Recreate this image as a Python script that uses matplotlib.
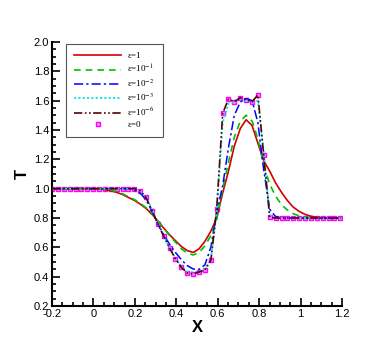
import matplotlib
matplotlib.use('Agg')
import matplotlib.pyplot as plt
from matplotlib.ticker import MultipleLocator

plt.rcParams['font.family'] = ['Liberation Sans', 'DejaVu Sans']
plt.rcParams['mathtext.fontset'] = 'stix'

# grid points
x = [-0.200, -0.172, -0.143, -0.115, -0.086, -0.058, -0.030, -0.001, 0.027, 0.056,
     0.084, 0.112, 0.141, 0.169, 0.198, 0.226, 0.254, 0.283, 0.311, 0.340,
     0.368, 0.396, 0.425, 0.453, 0.482, 0.510, 0.538, 0.567, 0.595, 0.624,
     0.652, 0.680, 0.709, 0.737, 0.766, 0.794, 0.822, 0.851, 0.879, 0.908,
     0.936, 0.964, 0.993, 1.021, 1.050, 1.078, 1.106, 1.135, 1.163, 1.192]

# eps = 1
T_e1 = [1.0, 1.0, 1.0, 1.0, 1.0, 1.0, 1.0, 1.0, 0.998, 0.993,
        0.985, 0.975, 0.96, 0.94, 0.92, 0.895, 0.865, 0.825, 0.78, 0.73,
        0.685, 0.645, 0.605, 0.578, 0.565, 0.59, 0.64, 0.71, 0.80, 0.97,
        1.12, 1.29, 1.41, 1.47, 1.43, 1.31, 1.19, 1.12, 1.04, 0.975,
        0.92, 0.875, 0.845, 0.825, 0.812, 0.805, 0.802, 0.8, 0.8, 0.8]
# eps = 1e-1
T_e2 = [1.0, 1.0, 1.0, 1.0, 1.0, 1.0, 1.0, 1.0, 1.0, 0.997,
        0.99, 0.98, 0.965, 0.945, 0.925, 0.90, 0.87, 0.83, 0.78, 0.73,
        0.68, 0.635, 0.59, 0.56, 0.548, 0.565, 0.61, 0.68, 0.79, 1.0,
        1.18, 1.35, 1.46, 1.50, 1.46, 1.34, 1.16, 1.03, 0.95, 0.89,
        0.855, 0.83, 0.815, 0.806, 0.802, 0.8, 0.8, 0.8, 0.8, 0.8]
# eps = 1e-2
T_e3 = [1.0, 1.0, 1.0, 1.0, 1.0, 1.0, 1.0, 1.0, 1.0, 1.0,
        1.0, 1.0, 1.0, 1.0, 0.99, 0.97, 0.925, 0.845, 0.76, 0.685,
        0.62, 0.565, 0.515, 0.475, 0.452, 0.45, 0.48, 0.60, 0.84, 1.02,
        1.28, 1.50, 1.59, 1.615, 1.60, 1.45, 1.13, 0.86, 0.81, 0.80,
        0.8, 0.8, 0.8, 0.8, 0.8, 0.8, 0.8, 0.8, 0.8, 0.8]
# eps = 1e-3
T_e4 = [1.0, 1.0, 1.0, 1.0, 1.0, 1.0, 1.0, 1.0, 1.0, 1.0,
        1.0, 1.0, 1.0, 1.0, 1.0, 0.985, 0.94, 0.86, 0.765, 0.675,
        0.595, 0.525, 0.47, 0.435, 0.428, 0.435, 0.455, 0.52, 0.84, 1.45,
        1.58, 1.59, 1.61, 1.60, 1.59, 1.60, 1.25, 0.82, 0.8, 0.8,
        0.8, 0.8, 0.8, 0.8, 0.8, 0.8, 0.8, 0.8, 0.8, 0.8]
# eps = 1e-6
T_e5 = [1.0, 1.0, 1.0, 1.0, 1.0, 1.0, 1.0, 1.0, 1.0, 1.0,
        1.0, 1.0, 1.0, 1.0, 1.0, 0.985, 0.94, 0.851, 0.759, 0.674,
        0.594, 0.521, 0.463, 0.425, 0.42, 0.432, 0.446, 0.511, 0.86, 1.514,
        1.611, 1.593, 1.62, 1.605, 1.593, 1.639, 1.23, 0.805, 0.8, 0.8,
        0.8, 0.8, 0.8, 0.8, 0.8, 0.8, 0.8, 0.8, 0.8, 0.8]
# eps = 0
T_e0 = list(T_e5)

labels = ['ε=1', 'ε=10$^{-1}$', 'ε=10$^{-2}$', 'ε=10$^{-3}$', 'ε=10$^{-6}$', 'ε=0']

fig = plt.figure(figsize=(3.89, 3.46), dpi=100)
ax = fig.add_axes([52/389, 1-306/346, 290/389, 264/346])

l1, = ax.plot(x, T_e1, color='#d00000', lw=1.2, zorder=3)
l2, = ax.plot(x, T_e2, color='#00c000', lw=1.2, ls=(0, (4, 3)), zorder=3)
l3, = ax.plot(x, T_e3, color='#0000ff', lw=1.1, ls=(0, (6, 2, 1.5, 2)), zorder=3)
l4, = ax.plot(x, T_e4, color='#00e8e8', lw=1.3, ls=(0, (1.2, 1.2)), zorder=3)
l5, = ax.plot(x, T_e5, color='#5a0000', lw=1.2, ls=(0, (5, 1.5, 1, 1.5, 1, 1.5)), zorder=4)
l6, = ax.plot(x, T_e0, ls='none', marker='s', ms=3.4, mec='#ff00ff', mfc='#ff90ff',
              mew=1.0, zorder=2)

ax.set_xlim(-0.2, 1.2)
ax.set_ylim(0.2, 2.0)
ax.xaxis.set_major_locator(MultipleLocator(0.2))
ax.xaxis.set_minor_locator(MultipleLocator(0.05))
ax.yaxis.set_major_locator(MultipleLocator(0.2))
ax.yaxis.set_minor_locator(MultipleLocator(0.05))
ax.set_xticklabels(['%g' % v for v in ax.get_xticks()])
ax.tick_params(which='both', direction='in', width=1.2, labelsize=8, pad=2)
ax.tick_params(which='major', length=6)
ax.tick_params(which='minor', length=3)
for s in ['top', 'right']:
    ax.spines[s].set_visible(False)
for s in ['left', 'bottom']:
    ax.spines[s].set_linewidth(1.5)

ax.set_xlabel('X', fontsize=12, fontweight='bold', labelpad=1)
ax.set_ylabel('T', fontsize=12, fontweight='bold', labelpad=3)

leg = ax.legend([l1, l2, l3, l4, l5, l6], labels, loc='upper left',
                bbox_to_anchor=(66/389, 1-44/346), bbox_transform=fig.transFigure,
                borderaxespad=0,
                prop={'family': 'Liberation Serif', 'size': 6.5},
                handlelength=5.2, handletextpad=0.7, labelspacing=0.3,
                borderpad=0.9, fancybox=False, framealpha=1, edgecolor='#555555')
leg.get_frame().set_linewidth(0.8)

fig.savefig('out.png', dpi=100)
